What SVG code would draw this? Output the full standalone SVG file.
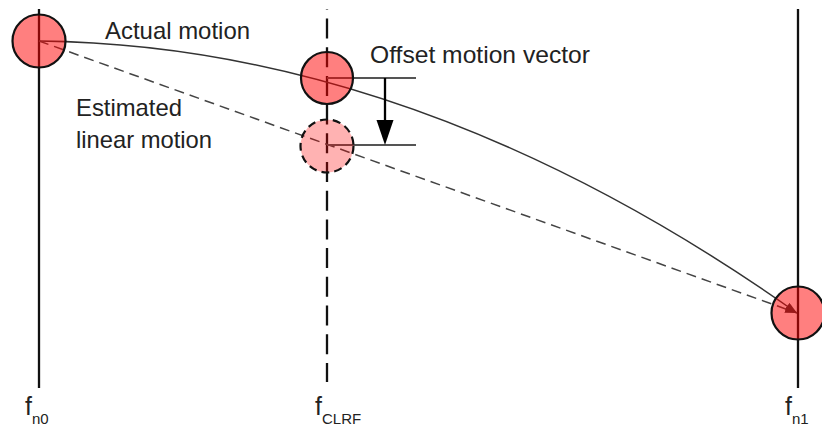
<svg xmlns="http://www.w3.org/2000/svg" width="822" height="432" viewBox="0 0 822 432">
  <style>
    .axis { stroke: #111; stroke-width: 2.3; fill: none; }
    .axis-dash { stroke: #111; stroke-width: 2.3; fill: none; stroke-dasharray: 20 8.7; stroke-dashoffset: 19.5; }
    .path-actual { stroke: #333; stroke-width: 1.5; fill: none; }
    .path-linear { stroke: #444; stroke-width: 1.5; fill: none; stroke-dasharray: 10 6; }
    .guide { stroke: #555; stroke-width: 2; fill: none; }
    .pos { fill: rgba(255,0,0,0.5); stroke: #111; stroke-width: 2.2; }
    .pos-est { fill: rgba(255,0,0,0.3); stroke: #111; stroke-width: 2.2; stroke-dasharray: 8 5; }
    .label { font-family: "Liberation Sans", Arial, sans-serif; font-size: 24px; fill: #222; }
    .frame { font-family: "Liberation Sans", Arial, sans-serif; font-size: 25px; fill: #222; }
    .sub { font-size: 15px; }
  </style>
  <defs>
    <marker id="tip" markerWidth="12" markerHeight="8" refX="12" refY="4" orient="auto" markerUnits="userSpaceOnUse">
      <path d="M0,0 L12,4 L0,8 z" fill="#333"/>
    </marker>
  </defs>

  <!-- frame time axes -->
  <g id="axis-n0"><line class="axis" x1="39" y1="9" x2="39" y2="388"/></g>
  <g id="axis-clrf"><path class="axis-dash" d="M327,9.3 V382"/></g>
  <g id="axis-n1"><line class="axis" x1="798" y1="9" x2="798" y2="388"/></g>

  <!-- motion trajectories and offset vector -->
  <g id="connectors">
    <path class="path-actual" d="M39,41 Q418,45 797,313" marker-end="url(#tip)"/>
    <path class="path-linear" d="M39,41 L797,313" marker-end="url(#tip)"/>
    <line class="guide" x1="327" y1="78" x2="416" y2="78"/>
    <line class="guide" x1="327" y1="145" x2="416" y2="145"/>
    <line x1="385" y1="78" x2="385" y2="122" stroke="#000" stroke-width="2.3"/>
    <path d="M376.5,120 L393.5,120 L385,145 z" fill="#000"/>
  </g>

  <!-- object positions -->
  <g id="pos-n0"><circle class="pos" cx="39" cy="41" r="26.5"/></g>
  <g id="pos-clrf-actual"><circle class="pos" cx="327" cy="78" r="26"/></g>
  <g id="pos-clrf-estimated"><circle class="pos-est" cx="327" cy="146" r="26.5"/></g>
  <g id="pos-n1"><circle class="pos" cx="798" cy="313" r="26.5"/></g>

  <!-- labels -->
  <g id="labels">
    <text class="label" x="105" y="38.5" textLength="145" lengthAdjust="spacingAndGlyphs">Actual motion</text>
    <text class="label" x="370" y="63" textLength="220" lengthAdjust="spacingAndGlyphs">Offset motion vector</text>
    <text class="label" x="76" y="115.5" textLength="106" lengthAdjust="spacingAndGlyphs">Estimated</text>
    <text class="label" x="76" y="148" textLength="136" lengthAdjust="spacingAndGlyphs">linear motion</text>
  </g>
  <g id="frame-labels">
    <text class="frame" x="25" y="415">f<tspan class="sub" dy="9">n0</tspan></text>
    <text class="frame" x="315" y="415">f<tspan class="sub" dy="9">CLRF</tspan></text>
    <text class="frame" x="785" y="415">f<tspan class="sub" dy="9">n1</tspan></text>
  </g>
</svg>
